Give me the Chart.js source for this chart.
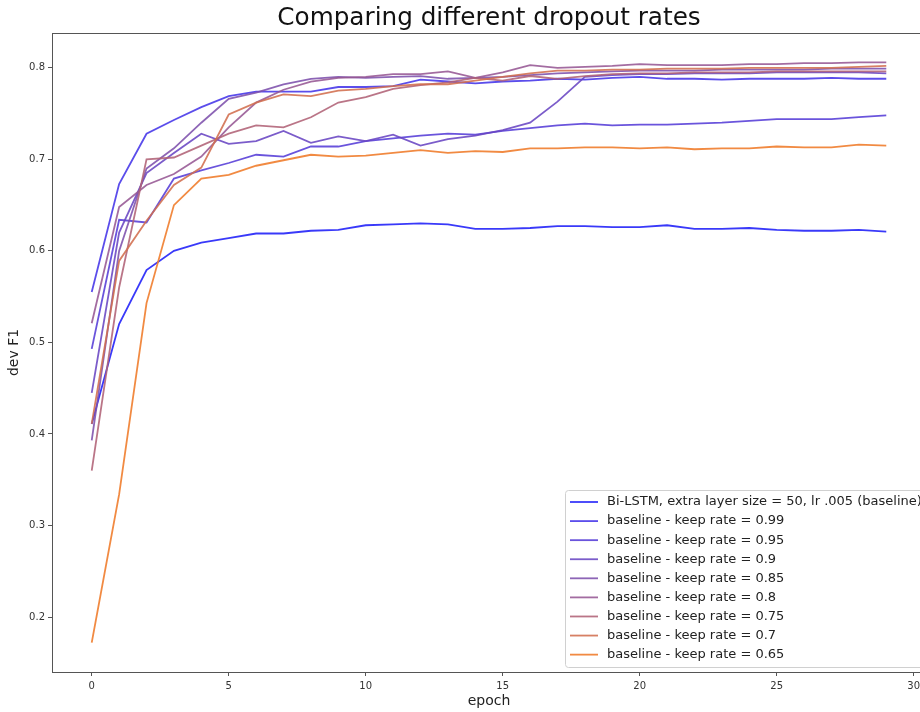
<!DOCTYPE html>
<html>
<head>
<meta charset="utf-8">
<script src="https://cdn.jsdelivr.net/npm/chart.js@4.4.0/dist/chart.umd.min.js"></script>
<style>
    html, body { margin: 0; padding: 0; background: #fff; overflow: hidden; }
    #wrap { position: relative; width: 980px; height: 712px; }
</style>
</head>
<body>
<div id="wrap"><canvas id="chart" width="980" height="712"></canvas></div>
<script>
// 데이터
const epochs = [0, 1, 2, 3, 4, 5, 6, 7, 8, 9, 10, 11, 12, 13, 14, 15, 16, 17, 18, 19, 20, 21, 22, 23, 24, 25, 26, 27, 28, 29];
const seriesNames = [
    'Bi-LSTM, extra layer size = 50, lr .005 (baseline)',
    'baseline - keep rate = 0.99',
    'baseline - keep rate = 0.95',
    'baseline - keep rate = 0.9',
    'baseline - keep rate = 0.85',
    'baseline - keep rate = 0.8',
    'baseline - keep rate = 0.75',
    'baseline - keep rate = 0.7',
    'baseline - keep rate = 0.65'
];
const baseline = [0.411, 0.520, 0.579, 0.600, 0.609, 0.614, 0.619, 0.619, 0.622, 0.623, 0.628, 0.629, 0.630, 0.629, 0.624, 0.624, 0.625, 0.627, 0.627, 0.626, 0.626, 0.628, 0.624, 0.624, 0.625, 0.623, 0.622, 0.622, 0.623, 0.621];
const keep099 = [0.555, 0.673, 0.728, 0.743, 0.757, 0.769, 0.774, 0.774, 0.774, 0.779, 0.779, 0.780, 0.787, 0.785, 0.783, 0.785, 0.786, 0.788, 0.787, 0.789, 0.790, 0.788, 0.788, 0.787, 0.788, 0.788, 0.788, 0.789, 0.788, 0.788];
const keep095 = [0.493, 0.634, 0.631, 0.679, 0.688, 0.696, 0.705, 0.703, 0.714, 0.714, 0.720, 0.723, 0.726, 0.728, 0.727, 0.731, 0.734, 0.737, 0.739, 0.737, 0.738, 0.738, 0.739, 0.740, 0.742, 0.744, 0.744, 0.744, 0.746, 0.748];
const keep090 = [0.445, 0.620, 0.685, 0.707, 0.728, 0.717, 0.720, 0.731, 0.718, 0.725, 0.720, 0.727, 0.715, 0.722, 0.726, 0.732, 0.740, 0.763, 0.790, 0.792, 0.793, 0.793, 0.794, 0.794, 0.794, 0.795, 0.795, 0.795, 0.795, 0.794];
const keep085 = [0.393, 0.600, 0.690, 0.712, 0.740, 0.766, 0.773, 0.782, 0.788, 0.790, 0.789, 0.790, 0.791, 0.788, 0.789, 0.790, 0.792, 0.794, 0.795, 0.796, 0.797, 0.797, 0.797, 0.798, 0.798, 0.798, 0.798, 0.799, 0.799, 0.799];
const keep080 = [0.521, 0.648, 0.672, 0.684, 0.703, 0.735, 0.762, 0.776, 0.785, 0.789, 0.790, 0.793, 0.793, 0.796, 0.789, 0.795, 0.803, 0.800, 0.801, 0.802, 0.804, 0.803, 0.803, 0.803, 0.804, 0.804, 0.805, 0.805, 0.806, 0.806];
const keep075 = [0.360, 0.560, 0.700, 0.702, 0.715, 0.728, 0.737, 0.735, 0.746, 0.762, 0.768, 0.777, 0.781, 0.784, 0.789, 0.786, 0.791, 0.788, 0.791, 0.793, 0.794, 0.794, 0.795, 0.795, 0.795, 0.796, 0.796, 0.796, 0.796, 0.796];
const keep070 = [0.411, 0.589, 0.633, 0.672, 0.691, 0.749, 0.762, 0.771, 0.769, 0.775, 0.777, 0.780, 0.782, 0.782, 0.786, 0.790, 0.794, 0.797, 0.797, 0.798, 0.798, 0.799, 0.799, 0.799, 0.800, 0.800, 0.800, 0.800, 0.801, 0.802];
const keep065 = [0.172, 0.334, 0.543, 0.650, 0.679, 0.683, 0.693, 0.699, 0.705, 0.703, 0.704, 0.707, 0.710, 0.707, 0.709, 0.708, 0.712, 0.712, 0.713, 0.713, 0.712, 0.713, 0.711, 0.712, 0.712, 0.714, 0.713, 0.713, 0.716, 0.715];
const seriesValues = [baseline, keep099, keep095, keep090, keep085, keep080, keep075, keep070, keep065];

const xTicks = [0, 5, 10, 15, 20, 25, 30];
const yTicks = [0.2, 0.3, 0.4, 0.5, 0.6, 0.7, 0.8];

// 스타일
const lineColors = [
    'rgba(35, 35, 248, 0.9)',
    'rgba(68, 52, 232, 0.88)',
    'rgba(85, 60, 215, 0.88)',
    'rgba(105, 70, 195, 0.88)',
    'rgba(125, 80, 172, 0.88)',
    'rgba(150, 88, 148, 0.88)',
    'rgba(176, 98, 118, 0.88)',
    'rgba(210, 110, 78, 0.88)',
    'rgba(240, 125, 45, 0.9)'
];
const FONT = "'DejaVu Sans', sans-serif";

const datasets = seriesValues.map((vals, i) => ({
    label: seriesNames[i],
    data: vals.map((v, j) => ({ x: epochs[j], y: v })),
    borderColor: lineColors[i],
    backgroundColor: lineColors[i],
    borderWidth: 1.8,
    pointRadius: 0,
    tension: 0,
    fill: false,
    order: seriesValues.length - i
}));

// 제목 + 테두리 + 범례 그리기
const framePlugin = {
    id: 'frame',
    afterDraw(chart) {
        const { ctx, chartArea: a } = chart;
        ctx.save();
        ctx.strokeStyle = '#555';
        ctx.lineWidth = 1;
        ctx.strokeRect(Math.round(a.left) + 0.5, Math.round(a.top) + 0.5,
            Math.round(a.right - a.left), Math.round(a.bottom - a.top));

        // 제목
        ctx.fillStyle = '#111';
        ctx.font = '24.7px ' + FONT;
        ctx.textAlign = 'center';
        ctx.textBaseline = 'middle';
        ctx.fillText('Comparing different dropout rates', (a.left + a.right) / 2, 19);

        // 범례 (오른쪽 아래)
        ctx.font = '13px ' + FONT;
        let maxW = 0;
        seriesNames.forEach(n => { maxW = Math.max(maxW, ctx.measureText(n).width); });
        const rowH = 19.08;
        const boxW = 42 + maxW + 10;
        const boxH = 177;
        const bx = a.right - 361;
        const by = a.bottom - 5 - boxH;
        ctx.beginPath();
        if (ctx.roundRect) ctx.roundRect(bx + 0.5, by + 0.5, boxW, boxH, 3);
        else ctx.rect(bx + 0.5, by + 0.5, boxW, boxH);
        ctx.fillStyle = 'rgba(255,255,255,0.85)';
        ctx.fill();
        ctx.strokeStyle = '#d0d0d0';
        ctx.stroke();
        ctx.textAlign = 'left';
        seriesNames.forEach((n, i) => {
            const cy = by + 12 + i * rowH;
            ctx.strokeStyle = lineColors[i];
            ctx.lineWidth = 1.8;
            ctx.beginPath();
            ctx.moveTo(bx + 5, cy);
            ctx.lineTo(bx + 33, cy);
            ctx.stroke();
            ctx.fillStyle = '#222';
            ctx.fillText(n, bx + 42, cy);
        });
        ctx.restore();
    }
};

new Chart(document.getElementById('chart').getContext('2d'), {
    type: 'line',
    data: { datasets },
    options: {
        responsive: false,
        animation: false,
        layout: { padding: { top: 33, right: 54, bottom: 0, left: 0 } },
        plugins: { legend: { display: false }, title: { display: false }, tooltip: { enabled: false } },
        scales: {
            x: {
                type: 'linear',
                min: -1.45,
                max: 30.45,
                afterBuildTicks: s => { s.ticks = xTicks.map(v => ({ value: v })); },
                afterFit: s => { s.height = 40; },
                border: { display: false },
                grid: { drawOnChartArea: false, drawTicks: true, tickLength: 4, color: '#555' },
                ticks: { font: { family: FONT, size: 10 }, color: '#333', padding: 4, callback: v => String(v) },
                title: { display: true, text: 'epoch', font: { family: FONT, size: 14 }, color: '#222', padding: { top: 0, bottom: 2 } }
            },
            y: {
                min: 0.14,
                max: 0.838,
                afterBuildTicks: s => { s.ticks = yTicks.map(v => ({ value: v })); },
                afterFit: s => { s.width = 52; },
                border: { display: false },
                grid: { drawOnChartArea: false, drawTicks: true, tickLength: 4, color: '#555' },
                ticks: { font: { family: FONT, size: 10 }, color: '#333', padding: 3, callback: v => v.toFixed(1) },
                title: { display: true, text: 'dev F1', font: { family: FONT, size: 14 }, color: '#222', padding: { top: 6, bottom: 0 } }
            }
        }
    },
    plugins: [framePlugin]
});
</script>
</body>
</html>
